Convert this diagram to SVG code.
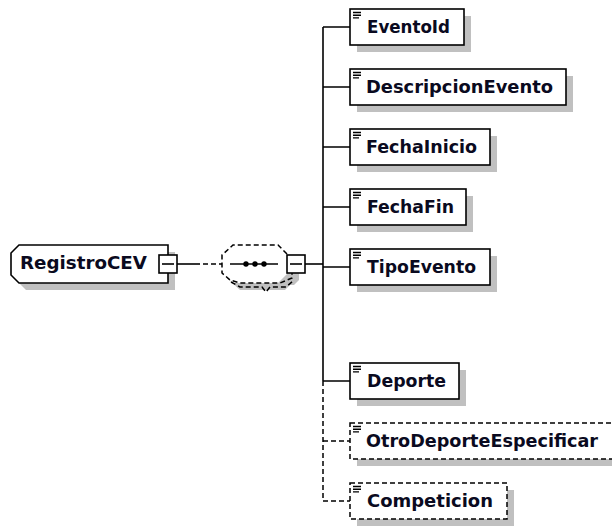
<svg xmlns="http://www.w3.org/2000/svg" width="612" height="526" viewBox="0 0 612 526">
<style>
.bx{fill:#fff;stroke:#000;stroke-width:1.6}
.opt{fill:#fff;stroke:#000;stroke-width:1.5;stroke-dasharray:5 3}
.sh{fill:#c0c0c0;stroke:none}
.t{font-family:"DejaVu Sans",Verdana,sans-serif;font-weight:bold;font-size:17.5px;fill:#0a0a20}
.ic{stroke:#000;stroke-width:1.4}
.ln{stroke:#000;stroke-width:1.6;fill:none}
.dl{stroke:#000;stroke-width:1.5;fill:none;stroke-dasharray:5 3}
</style>
<defs>
<g id="icon"><path class="ic" d="M3,3.5h8M3,6.2h8M3,8.9h6"/></g>
</defs>
<rect width="612" height="526" fill="#fff"/>
<g id="connectors">
<path class="ln" d="M177,264H200"/>
<path class="dl" d="M203,264H222"/>
<path class="ln" d="M305,264H323"/>
<path class="ln" d="M323,27V381"/>
<path class="dl" d="M323,381V501"/>
<path class="ln" d="M323,27H350M323,87H350M323,147H350M323,207H350M323,267H350M323,381H350"/>
<path class="dl" d="M323,441H350M323,501H350"/>
</g>
<g id="RegistroCEV">
<path class="sh" d="M26,252H175V290H26L18,282V260Z"/>
<path class="bx" d="M19,245H168V283H19L11,275V253Z"/>
<text class="t" x="20" y="269" textLength="127" lengthAdjust="spacingAndGlyphs">RegistroCEV</text>
<rect class="bx" x="159" y="255" width="18" height="18"/>
<path class="ln" d="M162,264H174"/>
</g>
<g id="sequence">
<path class="sh" d="M240,252H285L294,261V281L285,290H240L229,280V262Z"/>
<path class="sh" d="M292,262h7v18l-5,5h-4z"/>
<path d="M233,245H278L287,254V274L278,283H233L222,273V255Z" fill="#fff" stroke="none"/>
<path class="dl" d="M287,254L278,245H233L222,255V273L230,280L240,283H280L292,278V273"/>
<path class="dl" d="M231,282L240,287H262L266,292L270,287H286L293,281"/>
<path class="ln" d="M230,264H278"/>
<circle cx="246" cy="264" r="2.7"/>
<circle cx="255" cy="264" r="2.7"/>
<circle cx="264" cy="264" r="2.7"/>
<rect class="bx" x="287" y="255" width="18" height="18"/>
<path class="ln" d="M290,264H302"/>
</g>
<g id="EventoId">
<rect class="sh" x="357" y="16" width="114" height="36"/>
<rect class="bx" x="350" y="9" width="114" height="36"/>
<use href="#icon" x="350" y="9"/>
<text class="t" x="367" y="33" textLength="83" lengthAdjust="spacingAndGlyphs">EventoId</text>
</g>
<g id="DescripcionEvento">
<rect class="sh" x="357" y="76" width="216" height="36"/>
<rect class="bx" x="350" y="69" width="216" height="36"/>
<use href="#icon" x="350" y="69"/>
<text class="t" x="366" y="93" textLength="187" lengthAdjust="spacingAndGlyphs">DescripcionEvento</text>
</g>
<g id="FechaInicio">
<rect class="sh" x="357" y="136" width="140" height="36"/>
<rect class="bx" x="350" y="129" width="140" height="36"/>
<use href="#icon" x="350" y="129"/>
<text class="t" x="366" y="153" textLength="111" lengthAdjust="spacingAndGlyphs">FechaInicio</text>
</g>
<g id="FechaFin">
<rect class="sh" x="357" y="196" width="116" height="36"/>
<rect class="bx" x="350" y="189" width="116" height="36"/>
<use href="#icon" x="350" y="189"/>
<text class="t" x="367" y="213" textLength="87" lengthAdjust="spacingAndGlyphs">FechaFin</text>
</g>
<g id="TipoEvento">
<rect class="sh" x="357" y="256" width="140" height="36"/>
<rect class="bx" x="350" y="249" width="140" height="36"/>
<use href="#icon" x="350" y="249"/>
<text class="t" x="367" y="273" textLength="109" lengthAdjust="spacingAndGlyphs">TipoEvento</text>
</g>
<g id="Deporte">
<rect class="sh" x="357" y="370" width="109" height="36"/>
<rect class="bx" x="350" y="363" width="109" height="36"/>
<use href="#icon" x="350" y="363"/>
<text class="t" x="367" y="387" textLength="79" lengthAdjust="spacingAndGlyphs">Deporte</text>
</g>
<g id="OtroDeporteEspecificar">
<rect class="sh" x="357" y="430" width="270" height="36"/>
<rect class="opt" x="350" y="423" width="270" height="36"/>
<use href="#icon" x="350" y="423"/>
<text class="t" x="366" y="447" textLength="232" lengthAdjust="spacingAndGlyphs">OtroDeporteEspecificar</text>
</g>
<g id="Competicion">
<rect class="sh" x="357" y="490" width="157" height="36"/>
<rect class="opt" x="350" y="483" width="157" height="36"/>
<use href="#icon" x="350" y="483"/>
<text class="t" x="367" y="507" textLength="126" lengthAdjust="spacingAndGlyphs">Competicion</text>
</g>
</svg>
